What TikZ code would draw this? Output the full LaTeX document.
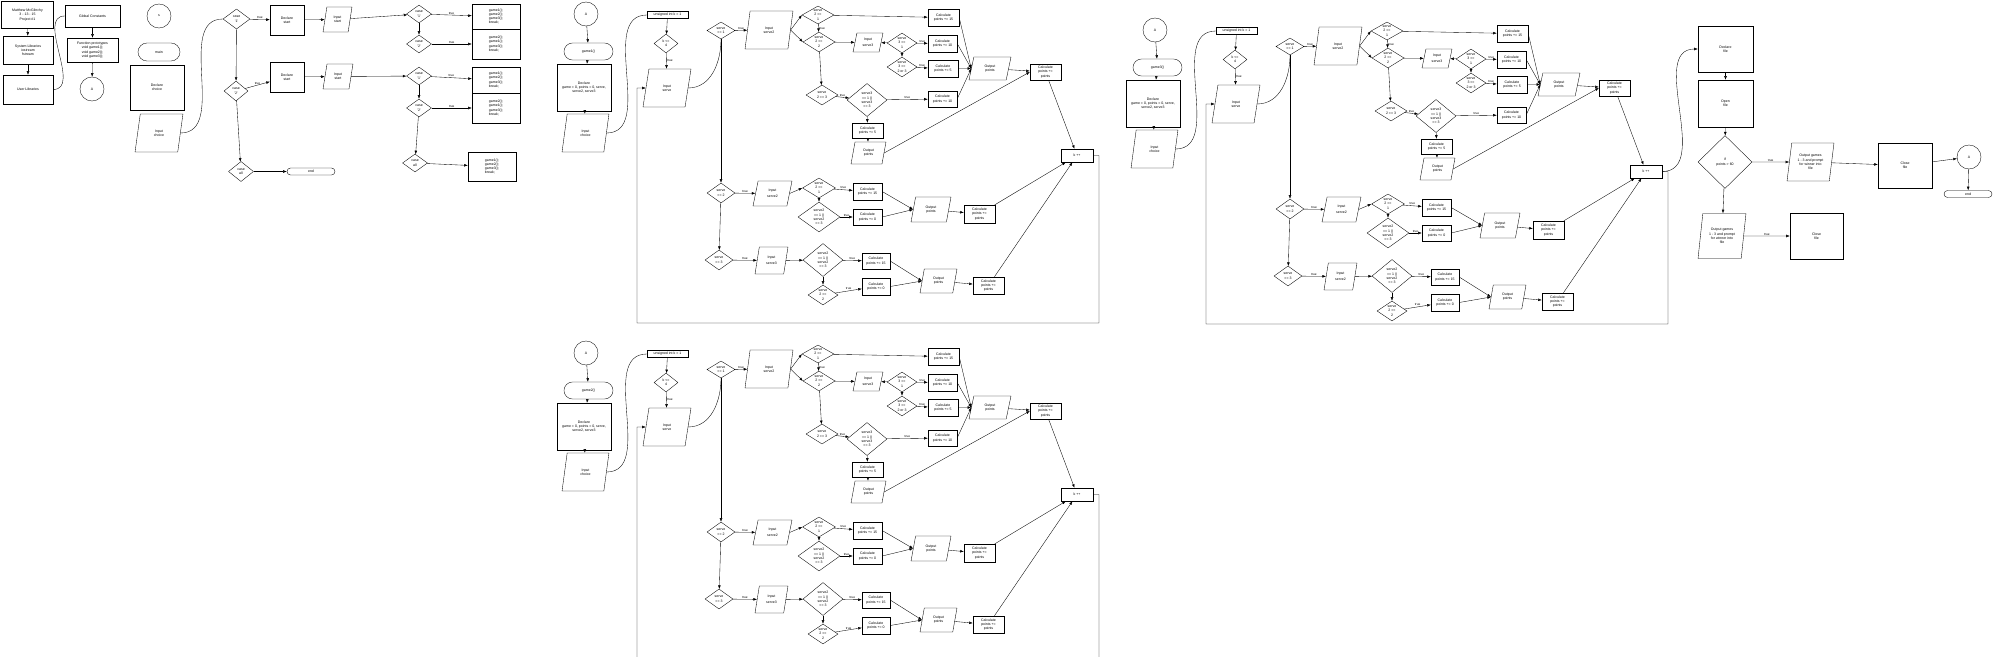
\documentclass[tikz,border=0pt]{standalone}
\usepackage{fontspec}
\setmainfont{Liberation Sans}
\usetikzlibrary{shapes.geometric, shapes.misc, arrows.meta, positioning}
\newcommand{\caso}[1]{\textquotesingle#1\textquotesingle}

\begin{document}
\begin{tikzpicture}[x=0.05cm, y=-0.05cm, font=\fontsize{5}{6}\selectfont, >={Latex[length=1.8mm]}, line width=0.5pt,
        sz/.style 2 args={minimum width=#1*0.05cm, minimum height=#2*0.05cm},
        proc/.style={draw, rectangle, align=center, inner sep=0pt},
        inout/.style={draw, trapezium, trapezium left angle=78, trapezium right angle=102,
            trapezium stretches=true, align=center, inner sep=0pt},
        decis/.style={draw, diamond, aspect=1.6, align=center, inner sep=0pt},
        term/.style={draw, rounded rectangle, align=center, inner sep=0pt},
        conec/.style={draw, circle, minimum size=1.2cm, inner sep=0pt},
        flow/.style={->},
        lbl/.style={font=\fontsize{4.5}{5}\selectfont, inner sep=1pt}]
    \useasboundingbox (0,0) rectangle (2000,657);
    \clip (0,0) rectangle (2000,657);

    % cabecera
    \node[proc, sz={52}{27}] (autor) at (27.5,15) {Matthew McGlinchy\\3 - 13 - 15\\Project \#1};
    \node[proc, sz={50}{28}] (syslib) at (28,50) {System Libraries\\iostream\\fstream};
    \node[proc, sz={50}{29}] (userlib) at (28,89.5) {User Libraries};
    \node[proc, sz={55}{22}] (gconst) at (92.5,16) {Global Constants};
    \node[proc, sz={51}{24}] (proto) at (92.5,50) {Function prototypes\\void game1();\\void game2();\\void game3();};
    \node[conec] (conA) at (92,89) {A};
    \draw[flow] (autor) -- (syslib);
    \draw[flow] (syslib) -- (userlib);
    \draw (userlib.east) to[out=0,in=180] (gconst.west);
    \draw[flow] (gconst) -- (proto);
    \draw[flow] (proto) -- (conA);

    % main y menu
    \node[conec] (inicio) at (159,16) {s};
    \node[term, sz={42}{18}] (main) at (159,52) {main};
    \node[proc, sz={54}{45}] (decch) at (157,87.5) {Declare\\choice};
    \node[inout, sz={48}{38}] (inch) at (159,133) {Input\\choice};
    \node[decis, sz={27}{20}] (m1) at (236.5,19) {case\\\caso{1}};
    \node[decis, sz={24}{20}] (m2) at (236,91) {case\\\caso{2}};
    \node[decis, sz={25}{20}] (m3) at (241,171.5) {case\\all};
    \node[term, sz={48}{7}] (fin1) at (311,171.5) {end};
    \node[proc, sz={34}{30}] (dst1) at (287,20) {Declare\\start};
    \node[inout, sz={29}{25}] (ist1) at (337.5,19.5) {Input\\start};
    \node[proc, sz={34}{30}] (dst2) at (287,77) {Declare\\start};
    \node[inout, sz={30}{25}] (ist2) at (338,76.5) {Input\\start};
    \node[decis, sz={25}{18}] (o11) at (419,14) {case\\\caso{1}};
    \node[decis, sz={25}{18}] (o12) at (419,44) {case\\\caso{2}};
    \node[decis, sz={25}{18}] (o21) at (419,76) {case\\\caso{1}};
    \node[decis, sz={25}{18}] (o22) at (419,108) {case\\\caso{2}};
    \node[decis, sz={25}{18}] (o23) at (415,163) {case\\all};
    \node[proc, align=left, sz={48}{25}] (b11) at (496,16.5) {game1();\\game2();\\game3();\\break;};
    \node[proc, align=left, sz={48}{30}] (b12) at (496,44) {game2();\\game1();\\game3();\\break;};
    \node[proc, align=left, sz={48}{26}] (b21) at (496,80) {game1();\\game2();\\game3();\\break;};
    \node[proc, align=left, sz={48}{30}] (b22) at (496,108) {game2();\\game1();\\game3();\\break;};
    \node[proc, align=left, sz={48}{29}] (b23) at (492,166.5) {game1();\\game2();\\game3();\\break;};
    \draw (inch.east) to[out=0,in=180] (m1.west);
    \draw[flow] (m1) -- node[lbl,above]{true} (dst1);
    \draw[flow] (dst1) -- (ist1);
    \draw[flow] (ist1) -- (o11);
    \draw[flow] (o11) -- node[lbl,above]{true} (b11);
    \draw[flow] (o11) -- (o12);
    \draw[flow] (o12) -- node[lbl,above]{true} (b12);
    \draw[flow] (m1) -- (m2);
    \draw[flow] (m2) -- node[lbl,above]{true} (dst2);
    \draw[flow] (dst2) -- (ist2);
    \draw[flow] (ist2) -- (o21);
    \draw[flow] (o21) -- node[lbl,above]{true} (b21);
    \draw[flow] (o21) -- (o22);
    \draw[flow] (o22) -- node[lbl,above]{true} (b22);
    \draw[flow] (o22) -- (o23);
    \draw[flow] (o23) -- (b23);
    \draw[flow] (m2) -- (m3);
    \draw[flow] (m3) -- (fin1);

    % game1, game2, game3
    \foreach \gx/\gy/\g/\gname/\gfb/\gin in {0/0/ga/game1()/323/serve3, 0/339/gb/game2()/361/serve3, 569/16/gc/game3()/308/serve2}{
    \begin{scope}[shift={(\gx,\gy)}]
        \node[conec] (\g-A) at (586,14) {A};
        \node[term, sz={49}{17}] (\g-fn) at (588.5,51.5) {\gname};
        \node[proc, sz={54}{47}] (\g-dec) at (584,87.5) {Declare\\game = 0, points = 0, serve,\\serve2, serve3};
        \node[inout, sz={47}{38}] (\g-inch) at (585.5,133) {Input\\choice};
        \node[proc, sz={41}{7}] (\g-k1) at (667.5,15) {unsigned int k = 1};
        \node[decis, sz={24}{19}] (\g-kle) at (666,43.5) {k <=\\4};
        \node[inout, sz={48}{38}] (\g-inS) at (667,88) {Input\\serve};
        \node[decis, sz={28}{17}] (\g-s1) at (721,30.5) {serve\\== 1};
        \node[inout, sz={48}{38}] (\g-inS2) at (769,30) {Input\\serve2};
        \node[decis, sz={32}{18}] (\g-d21) at (818,15) {serve\\2 ==\\1};
        \node[decis, sz={32}{20}] (\g-d22) at (819,42) {serve\\2 ==\\2};
        \node[inout, sz={30}{19}] (\g-inS3) at (868,42.5) {Input\\[3pt]serve3};
        \node[decis, sz={30}{20}] (\g-d31) at (902,43) {serve\\3 ==\\1};
        \node[decis, sz={30}{20}] (\g-d32) at (902,67) {serve\\3 ==\\2 or 3};
        \node[decis, sz={32}{20}] (\g-d23) at (822,95) {serve\\2 == 3};
        \node[decis, sz={40}{33}] (\g-dB) at (867,100) {serve3\\== 1 ||\\serve3\\== 3};
        \node[proc, sz={31}{17}] (\g-c1) at (943.5,17.5) {Calculate\\points += 15};
        \node[proc, sz={29}{17}] (\g-c2) at (942.5,43.5) {Calculate\\points += 10};
        \node[proc, sz={30}{17}] (\g-c3) at (943,68.5) {Calculate\\points += 5};
        \node[proc, sz={29}{16}] (\g-c4) at (942.5,99) {Calculate\\points += 10};
        \node[proc, sz={31}{15}] (\g-c5) at (867.5,130.5) {Calculate\\points += 5};
        \node[inout, sz={35}{22}] (\g-o2) at (868.5,153) {Output\\points};
        \node[inout, sz={42}{23}] (\g-o1) at (990,68.5) {Output\\points};
        \node[proc, sz={31}{16}] (\g-cp1) at (1045.5,72) {Calculate\\points +=\\points};
        \node[proc, sz={32}{13}] (\g-kpp) at (1077,155.5) {k ++};
        \node[decis, sz={28}{20}] (\g-s2) at (721,193) {serve\\== 2};
        \node[inout, sz={39}{25}] (\g-inM) at (772.5,193.5) {Input\\[3pt]serve2};
        \node[decis, sz={33}{20}] (\g-e21) at (819,188) {serve\\2 ==\\1};
        \node[decis, sz={42}{30}] (\g-eB) at (819,217) {serve2\\== 1 ||\\serve2\\== 3};
        \node[proc, sz={29}{17}] (\g-ec1) at (867.5,191.5) {Calculate\\points += 15};
        \node[proc, sz={29}{16}] (\g-ec2) at (867.5,217) {Calculate\\points += 0};
        \node[inout, sz={40}{25}] (\g-o3) at (931,209.5) {Output\\points};
        \node[proc, sz={31}{18}] (\g-cp2) at (979.5,214) {Calculate\\points +=\\points};
        \node[decis, sz={28}{20}] (\g-s3) at (719,260) {serve\\== 3};
        \node[inout, sz={33}{27}] (\g-inL) at (771.5,260.5) {Input\\[3pt]\gin};
        \node[decis, sz={40}{33}] (\g-f1) at (823,260) {serve2\\== 1 ||\\serve2\\== 3};
        \node[decis, sz={30}{20}] (\g-f2) at (823,295) {serve\\2 ==\\2};
        \node[proc, sz={28}{16}] (\g-fc1) at (876,261) {Calculate\\points += 15};
        \node[proc, sz={28}{17}] (\g-fc2) at (876,286.5) {Calculate\\points += 0};
        \node[inout, sz={37}{24}] (\g-o4) at (938.5,281) {Output\\points};
        \node[proc, sz={31}{17}] (\g-cp3) at (988.5,285.5) {Calculate\\points +=\\points};

        \draw[flow] (\g-A) -- (\g-fn);
        \draw[flow] (\g-fn) -- (\g-dec);
        \draw[flow] (\g-dec) -- (\g-inch);
        \draw (\g-inch.east) to[out=0,in=180] (\g-k1.west);
        \draw[flow] (\g-k1) -- (\g-kle);
        \draw[flow] (\g-kle) -- node[lbl,right]{true} (\g-inS);
        \draw (\g-inS.east) to[out=0,in=-90] (\g-s1.south);
        \draw[flow] (\g-s1) -- node[lbl,above]{true} (\g-inS2);
        \draw[flow] (\g-inS2.east) -- (\g-d21.west);
        \draw[flow] (\g-inS2.east) -- (\g-d22.west);
        \draw[flow] (\g-d21) -- node[lbl,right]{true} (\g-d22);
        \draw[flow] (\g-d21) -- (\g-c1);
        \draw[flow] (\g-d22) -- (\g-inS3);
        \draw[flow] (\g-d31) -- (\g-inS3);
        \draw[flow] (\g-d31) -- node[lbl,above]{true} (\g-c2);
        \draw[flow] (\g-d31) -- (\g-d32);
        \draw[flow] (\g-d32) -- node[lbl,above]{true} (\g-c3);
        \draw[flow] (\g-d22) -- (\g-d23);
        \draw[flow] (\g-d23) -- node[lbl,above]{true} (\g-dB);
        \draw[flow] (\g-dB) -- node[lbl,above]{true} (\g-c4);
        \draw[flow] (\g-dB) -- (\g-c5);
        \draw[flow] (\g-c5) -- (\g-o2);
        \foreach \c in {c1,c2,c3,c4} \draw[flow] (\g-\c.east) -- (\g-o1.west);
        \draw[flow] (\g-o1) -- (\g-cp1);
        \draw[flow] (\g-o2.east) -- (\g-cp1.west);
        \draw[flow] (\g-cp1) -- (\g-kpp);
        \draw[flow] (\g-s1) -- (\g-s2);
        \draw[flow] (\g-s2) -- node[lbl,above]{true} (\g-inM);
        \draw[flow] (\g-inM.east) -- (\g-e21.west);
        \draw[flow] (\g-e21) -- (\g-eB);
        \draw[flow] (\g-e21) -- node[lbl,above]{true} (\g-ec1);
        \draw[flow] (\g-eB) -- node[lbl,above]{true} (\g-ec2);
        \draw[flow] (\g-ec1.east) -- (\g-o3.west);
        \draw[flow] (\g-ec2.east) -- (\g-o3.west);
        \draw[flow] (\g-o3) -- (\g-cp2);
        \draw[flow] (\g-cp2) -- (\g-kpp);
        \draw[flow] (\g-s2) -- (\g-s3);
        \draw[flow] (\g-s3) -- node[lbl,above]{true} (\g-inL);
        \draw[flow] (\g-inL) -- (\g-f1);
        \draw[flow] (\g-f1) -- node[lbl,above]{true} (\g-fc1);
        \draw[flow] (\g-f1) -- (\g-f2);
        \draw[flow] (\g-f2) -- node[lbl,above]{true} (\g-fc2);
        \draw[flow] (\g-fc1.east) -- (\g-o4.west);
        \draw[flow] (\g-fc2.east) -- (\g-o4.west);
        \draw[flow] (\g-o4) -- (\g-cp3);
        \draw[flow] (\g-cp3) -- (\g-kpp);
        \draw[flow] (\g-kpp.east) -| (1099,\gfb) -| (637,88) -- (\g-inS.west);
    \end{scope}
    }

    % fichero
    \node[proc, sz={55}{46}] (declf) at (1725.5,49) {Declare\\file};
    \node[proc, sz={55}{47}] (openf) at (1725.5,103.5) {Open\\file};
    \node[decis, sz={54}{53}] (ifp) at (1725,162) {if\\points > 60};
    \node[inout, sz={47}{38}] (outw) at (1810.5,162) {Output games\\1 - 3 and prompt\\for winner into\\file};
    \node[proc, sz={54}{45}] (closef) at (1905,165.5) {Close\\file};
    \node[conec] (conA2) at (1969,157) {A};
    \node[term, sz={48}{7}] (fin2) at (1968,194) {end};
    \node[inout, sz={48}{45}] (outl) at (1722,236) {Output games\\1 - 3 and prompt\\for winner into\\file};
    \node[proc, sz={53}{46}] (closef2) at (1816.5,236) {Close\\file};
    \draw[flow] (gc-kpp.east) to[out=0,in=180] (declf.west);
    \draw[flow] (declf) -- (openf);
    \draw[flow] (openf) -- (ifp);
    \draw[flow] (ifp) -- node[lbl,above]{true} (outw);
    \draw[flow] (outw) -- (closef);
    \draw[flow] (closef) -- (conA2);
    \draw[flow] (conA2) -- (fin2);
    \draw[flow] (ifp) -- (outl);
    \draw[flow] (outl) -- node[lbl,above]{true} (closef2);
\end{tikzpicture}
\end{document}
